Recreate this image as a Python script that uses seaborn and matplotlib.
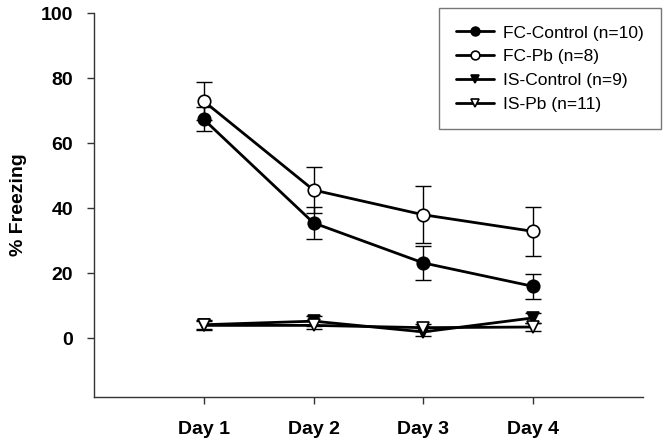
import numpy as np
import pandas as pd
import seaborn as sns
import matplotlib.pyplot as plt

# data
days = [1, 2, 3, 4]
day_labels = ["Day 1", "Day 2", "Day 3", "Day 4"]

fc_control = [67.3, 35.5, 23.2, 16.0]
fc_control_se = [3.7, 5.0, 5.2, 3.9]
fc_pb = [72.9, 45.6, 38.0, 32.9]
fc_pb_se = [5.8, 7.2, 8.7, 7.6]
is_control = [4.2, 5.3, 2.0, 6.3]
is_control_se = [1.4, 1.5, 1.2, 1.6]
is_pb = [4.0, 4.0, 3.3, 3.5]
is_pb_se = [1.5, 1.2, 1.1, 1.3]

names = ["FC-Control (n=10)", "FC-Pb (n=8)", "IS-Control (n=9)", "IS-Pb (n=11)"]

sns.set_style("ticks")
plt.rcParams['font.family'] = ['Liberation Sans', 'DejaVu Sans']
plt.rcParams['text.color'] = 'black'
plt.rcParams['axes.labelcolor'] = 'black'
plt.rcParams['xtick.color'] = 'black'
plt.rcParams['ytick.color'] = 'black'

fig = plt.figure(figsize=(6.64, 4.44), dpi=100)
ax = fig.add_axes([0.1416, 0.1059, 0.8264, 0.8648])

series = [
    (fc_control, fc_control_se, "o", "black", 9),
    (fc_pb, fc_pb_se, "o", "white", 9),
    (is_control, is_control_se, "v", "black", 9),
    (is_pb, is_pb_se, "v", "white", 9),
]

for name, (vals, se, mk, fc, ms) in zip(names, series):
    df = pd.DataFrame({"day": days, "val": vals})
    ax.errorbar(days, vals, yerr=se, fmt="none", ecolor="black",
                elinewidth=1, capsize=6, capthick=1, zorder=2)
    sns.lineplot(data=df, x="day", y="val", ax=ax, color="black", lw=2,
                 marker=mk, markersize=ms, markerfacecolor=fc,
                 markeredgecolor="black", markeredgewidth=1.2,
                 label=name, zorder=3)

ax.set_xlim(0, 5)
ax.set_ylim(-18, 100)
ax.set_xticks(days)
ax.set_xticklabels(day_labels)
ax.set_yticks([0, 20, 40, 60, 80, 100])
ax.set_xlabel("")
ax.set_ylabel("% Freezing", fontsize=14, fontweight="bold", labelpad=10)
for lbl in ax.get_xticklabels() + ax.get_yticklabels():
    lbl.set_fontweight("bold")
    lbl.set_fontsize(14)
ax.tick_params(axis="both", direction="out", length=5, width=1, color="#333333")
ax.tick_params(axis="x", pad=12)
ax.tick_params(axis="y", pad=10)
sns.despine(ax=ax)
for s in ["left", "bottom"]:
    ax.spines[s].set_color("#333333")
    ax.spines[s].set_linewidth(1)

leg = ax.legend(loc="upper right", bbox_to_anchor=(1.033, 1.013), fontsize=12.5,
                frameon=True, fancybox=False, edgecolor="#555555",
                handlelength=2.2, borderpad=1.0, labelspacing=0.5,
                handletextpad=0.5, markerscale=0.7, borderaxespad=0)
leg.get_frame().set_linewidth(1)

fig.savefig("out.png", dpi=100)
